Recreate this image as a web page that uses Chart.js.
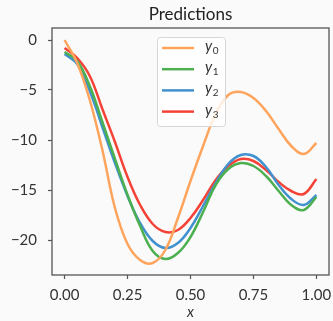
<!DOCTYPE html>
<html>
<head>
<meta charset="utf-8">
<script src="https://cdn.jsdelivr.net/npm/chart.js@4.4.1/dist/chart.umd.min.js"></script>
<style>
html, body { margin: 0; padding: 0; background: #fafafa; }
</style>
</head>
<body>
<canvas id="predChart" width="333" height="321"></canvas>
<script>
var xs = [0, 0.05, 0.1, 0.15, 0.2, 0.25, 0.3, 0.35, 0.4, 0.45, 0.5,
          0.55, 0.6, 0.65, 0.7, 0.75, 0.8, 0.85, 0.9, 0.95, 1.0];
var y0 = [0, -2.3, -6.0, -11.0, -16.8, -20.4, -22.0, -22.3, -21.0, -17.8, -14.1,
          -10.6, -7.4, -5.5, -5.2, -5.8, -7.1, -8.9, -10.6, -11.4, -10.3];
var y1 = [-1.2, -2.1, -4.6, -8.2, -11.9, -15.5, -18.6, -21.1, -21.9, -21.3, -19.7,
          -17.2, -14.5, -12.9, -12.3, -12.6, -13.6, -15.1, -16.5, -17.0, -15.7];
var y2 = [-1.4, -2.4, -5.1, -8.7, -12.3, -15.6, -18.3, -20.1, -20.8, -20.3, -18.8,
          -16.6, -14.3, -12.4, -11.5, -11.6, -12.7, -14.5, -15.9, -16.5, -15.5];
var y3 = [-0.8, -1.8, -3.6, -6.9, -10.2, -13.7, -16.5, -18.4, -19.2, -19.0, -17.8,
          -16.0, -14.0, -12.6, -11.9, -12.1, -13.0, -14.2, -15.1, -15.4, -13.9];
var seriesLabels = ["0", "1", "2", "3"];
var colors = ["#ffa45c", "#4caf50", "#4191cf", "#f44336"];
var xTicks = [0, 0.25, 0.5, 0.75, 1];
var yTicks = [-20, -15, -10, -5, 0];

Chart.defaults.font.family = "Lato";
Chart.defaults.color = "#333";

function toPoints(ys) {
    return xs.map(function (x, i) { return { x: x, y: ys[i] }; });
}

var allSeries = [y0, y1, y2, y3];
var datasets = allSeries.map(function (ys, i) {
    return {
        label: "y" + seriesLabels[i],
        data: toPoints(ys),
        borderColor: colors[i],
        backgroundColor: colors[i],
        borderWidth: 2.5,
        pointRadius: 0,
        tension: 0.4,
        fill: false,
    };
});

// frame around the plot area
var frame = {
    id: "frame",
    afterDraw: function (chart) {
        var a = chart.chartArea, ctx = chart.ctx;
        ctx.save();
        ctx.strokeStyle = "#555";
        ctx.lineWidth = 1.3;
        ctx.strokeRect(a.left, a.top, a.right - a.left, a.bottom - a.top);
        ctx.restore();
    }
};

// matplotlib style legend with subscripts
var legendBox = {
    id: "legendBox",
    afterDraw: function (chart) {
        var ctx = chart.ctx;
        var bx = 157, by = 37, bw = 68, bh = 89;
        ctx.save();
        ctx.beginPath();
        ctx.roundRect(bx + 0.5, by + 0.5, bw, bh, 3);
        ctx.fillStyle = "rgba(255,255,255,0.8)";
        ctx.fill();
        ctx.strokeStyle = "#d6d6d6";
        ctx.lineWidth = 1;
        ctx.stroke();
        chart.data.datasets.forEach(function (ds, i) {
            var ly = 48 + i * 21.2;
            ctx.strokeStyle = ds.borderColor;
            ctx.lineWidth = 2.5;
            ctx.beginPath();
            ctx.moveTo(162, ly);
            ctx.lineTo(194, ly);
            ctx.stroke();
            ctx.fillStyle = "#333";
            ctx.textBaseline = "alphabetic";
            ctx.font = "italic 15px Lato";
            ctx.fillText("y", 205, ly + 3);
            var w = ctx.measureText("y").width;
            ctx.font = "10px Lato";
            ctx.fillText(seriesLabels[i], 205 + w + 0.5, ly + 6);
        });
        ctx.restore();
    }
};

var ctx = document.getElementById("predChart").getContext("2d");
var predChart = new Chart(ctx, {
    type: "line",
    data: { datasets: datasets },
    plugins: [frame, legendBox],
    options: {
        responsive: false,
        animation: false,
        layout: { padding: { top: 0, right: 4, left: 0, bottom: 0 } },
        plugins: {
            legend: { display: false },
            tooltip: { enabled: false },
            title: {
                display: true,
                text: "Predictions",
                fullSize: false,
                color: "#222",
                font: { size: 17, weight: "normal" },
                padding: { top: 4, bottom: 3.6 },
            },
        },
        scales: {
            x: {
                type: "linear",
                min: -0.05,
                max: 1.05,
                afterBuildTicks: function (s) {
                    s.ticks = xTicks.map(function (v) { return { value: v }; });
                },
                grid: { drawOnChartArea: false, tickLength: 4, color: "#555", tickWidth: 1.2 },
                border: { display: false },
                ticks: {
                    padding: 7,
                    maxRotation: 0,
                    autoSkip: false,
                    font: { size: 15 },
                    callback: function (v) { return v.toFixed(2); },
                },
                title: {
                    display: true,
                    text: "x",
                    font: { size: 15, style: "italic" },
                    padding: { top: 1, bottom: 0 },
                },
                afterFit: function (s) {
                    s.height = 46;
                    s.paddingLeft = 0;
                    s.paddingRight = 0;
                },
            },
            y: {
                min: -23.5,
                max: 1.2,
                afterBuildTicks: function (s) {
                    s.ticks = yTicks.map(function (v) { return { value: v }; });
                },
                grid: { drawOnChartArea: false, tickLength: 4, color: "#555", tickWidth: 1.2 },
                border: { display: false },
                ticks: {
                    padding: 11,
                    autoSkip: false,
                    font: { size: 15 },
                    callback: function (v) { return v < 0 ? "\u2212" + Math.abs(v) : String(v); },
                },
                afterFit: function (s) { s.width = 52; },
            },
        },
    },
});
</script>
</body>
</html>
